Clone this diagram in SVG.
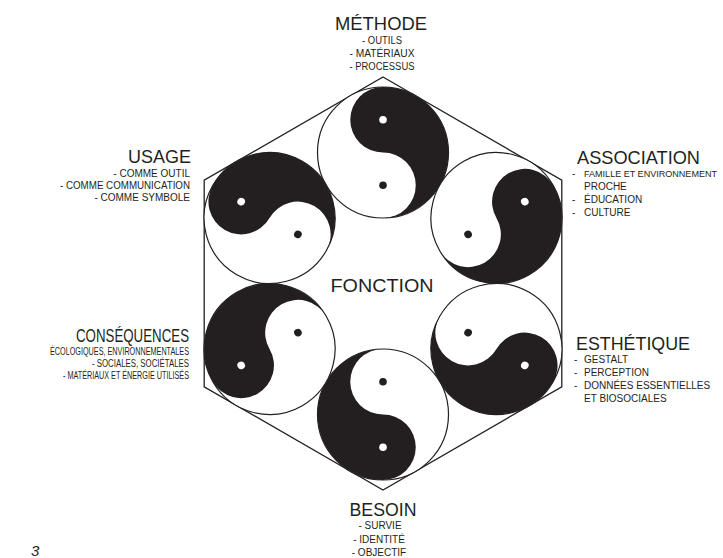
<svg xmlns="http://www.w3.org/2000/svg" xmlns:xlink="http://www.w3.org/1999/xlink" width="723" height="558" viewBox="0 0 723 558">
<style>
text{font-family:"Liberation Sans",Arial,sans-serif;fill:#231f20}
.t{font-size:18px}
.s{font-size:10px}
.ring{fill:#fff;stroke:#231f20;stroke-width:1.2}
.yin{fill:#231f20}
</style>
<defs>
<g id="yy">
<circle class="ring" r="65.5"/>
<path class="yin" d="M0,-65.5 A65.5,65.5 0 0 1 0,65.5 A32.75,32.75 0 0 0 0,0 A32.75,32.75 0 0 1 0,-65.5 Z"/>
<circle cx="0" cy="-32.75" r="3.8" fill="#fff"/>
<circle cx="0" cy="32.75" r="3.8" fill="#231f20"/>
</g>
</defs>
<rect width="723" height="558" fill="#fff"/>
<g id="frame">
<polygon points="383,77 561.8,180.25 561.8,386.75 383,490 204.2,386.75 204.2,180.25" fill="none" stroke="#231f20" stroke-width="1.3"/>
</g>
<g id="yy-methode"><use xlink:href="#yy" transform="translate(383,152.5)"/></g>
<g id="yy-association"><use xlink:href="#yy" transform="translate(496.45,218) rotate(60)"/></g>
<g id="yy-esthetique"><use xlink:href="#yy" transform="translate(496.45,349) rotate(120)"/></g>
<g id="yy-besoin"><use xlink:href="#yy" transform="translate(383,414.5) rotate(180)"/></g>
<g id="yy-consequences"><use xlink:href="#yy" transform="translate(269.55,349) rotate(240)"/></g>
<g id="yy-usage"><use xlink:href="#yy" transform="translate(269.55,218) rotate(300)"/></g>
<g id="fonction"><text class="t" x="382" y="292" text-anchor="middle" textLength="103" lengthAdjust="spacingAndGlyphs">FONCTION</text></g>
<g id="methode" text-anchor="middle">
<text class="t" x="381" y="30" textLength="92" lengthAdjust="spacingAndGlyphs">MÉTHODE</text>
<text class="s" x="382" y="44" textLength="40" lengthAdjust="spacingAndGlyphs">- OUTILS</text>
<text class="s" x="382" y="57" textLength="65" lengthAdjust="spacingAndGlyphs">- MATÉRIAUX</text>
<text class="s" x="382" y="70" textLength="65" lengthAdjust="spacingAndGlyphs">- PROCESSUS</text>
</g>
<g id="usage" text-anchor="end">
<text class="t" x="191" y="163" textLength="63" lengthAdjust="spacingAndGlyphs">USAGE</text>
<text class="s" x="190" y="177">- COMME OUTIL</text>
<text class="s" x="190" y="189" textLength="130" lengthAdjust="spacingAndGlyphs">- COMME COMMUNICATION</text>
<text class="s" x="190" y="201">- COMME SYMBOLE</text>
</g>
<g id="association">
<text class="t" x="577" y="164" textLength="123" lengthAdjust="spacingAndGlyphs">ASSOCIATION</text>
<text class="s" y="177"><tspan x="572">-</tspan><tspan x="584" font-size="9" textLength="133" lengthAdjust="spacingAndGlyphs">FAMILLE ET ENVIRONNEMENT</tspan></text>
<text class="s" x="584" y="190">PROCHE</text>
<text class="s" y="203"><tspan x="572">-</tspan><tspan x="584">ÉDUCATION</tspan></text>
<text class="s" y="216"><tspan x="572">-</tspan><tspan x="584">CULTURE</tspan></text>
</g>
<g id="esthetique">
<text class="t" x="576" y="350" textLength="114" lengthAdjust="spacingAndGlyphs">ESTHÉTIQUE</text>
<text class="s" y="363"><tspan x="574">-</tspan><tspan x="584">GESTALT</tspan></text>
<text class="s" y="376"><tspan x="574">-</tspan><tspan x="584">PERCEPTION</tspan></text>
<text class="s" y="389"><tspan x="574">-</tspan><tspan x="584">DONNÉES ESSENTIELLES</tspan></text>
<text class="s" x="584" y="402">ET BIOSOCIALES</text>
</g>
<g id="consequences" text-anchor="end">
<text class="t" x="189" y="342" textLength="113" lengthAdjust="spacingAndGlyphs">CONSÉQUENCES</text>
<text class="s" x="189" y="355" textLength="139" lengthAdjust="spacingAndGlyphs">ÉCOLOGIQUES, ENVIRONNEMENTALES</text>
<text class="s" x="189" y="367" textLength="97" lengthAdjust="spacingAndGlyphs">- SOCIALES, SOCIÉTALES</text>
<text class="s" x="189" y="379" textLength="126" lengthAdjust="spacingAndGlyphs">- MATÉRIAUX ET ÉNERGIE UTILISÉS</text>
</g>
<g id="besoin" text-anchor="middle">
<text class="t" x="383" y="516" textLength="67" lengthAdjust="spacingAndGlyphs">BESOIN</text>
<text class="s" x="380" y="529">- SURVIE</text>
<text class="s" x="379" y="543">- IDENTITÉ</text>
<text class="s" x="379" y="556">- OBJECTIF</text>
</g>
<g id="page"><text x="31" y="556" font-size="15" font-style="italic" fill="#333">3</text></g>
</svg>
